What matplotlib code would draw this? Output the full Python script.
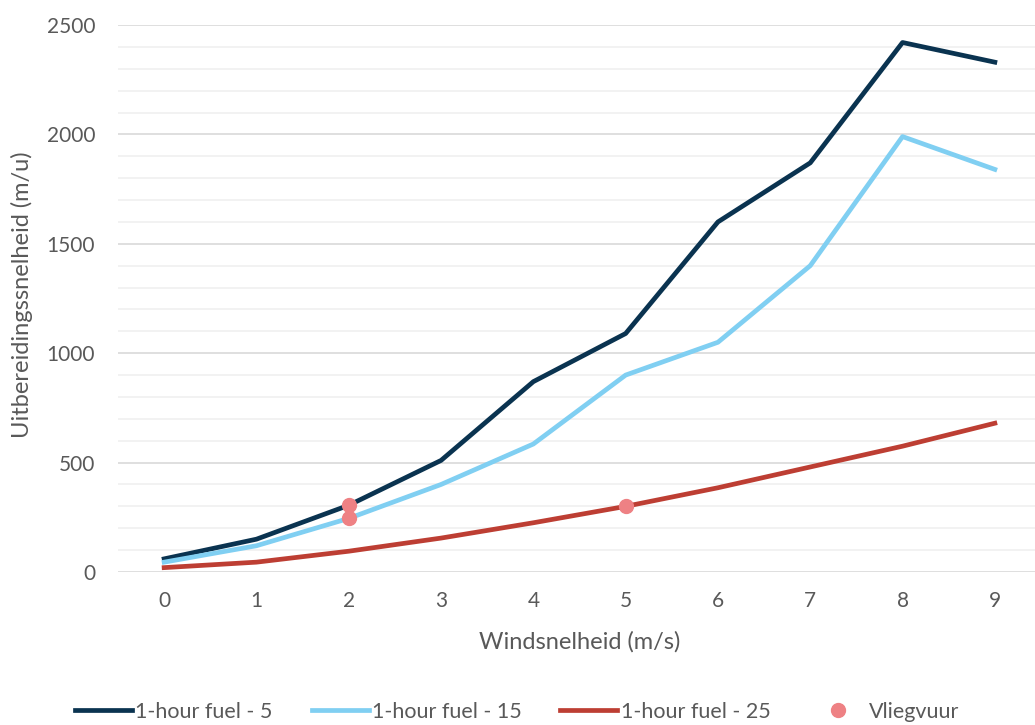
import matplotlib.pyplot as plt
from matplotlib.ticker import MultipleLocator

windsnelheid = [0, 1, 2, 3, 4, 5, 6, 7, 8, 9]
fuel_5 = [60, 150, 305, 510, 870, 1090, 1600, 1870, 2420, 2330]
fuel_15 = [45, 120, 245, 400, 585, 900, 1050, 1400, 1990, 1840]
fuel_25 = [20, 45, 95, 155, 225, 300, 385, 480, 575, 680]
vlieg_x = [2, 2, 5]
vlieg_y = [305, 245, 300]

plt.rcParams['font.family'] = ['Lato', 'DejaVu Sans']
grey = '#595959'

fig = plt.figure(figsize=(10.35, 7.25), dpi=100)
ax = fig.add_axes([118 / 1035, 1 - 572 / 725, (1035 - 118) / 1035, (572 - 25) / 725])

ax.plot(windsnelheid, fuel_5, color='#0A3350', lw=3.4, label='1-hour fuel - 5', zorder=3)
ax.plot(windsnelheid, fuel_15, color='#80CFF2', lw=3.4, label='1-hour fuel - 15', zorder=3)
ax.plot(windsnelheid, fuel_25, color='#BD3E33', lw=3.4, label='1-hour fuel - 25', zorder=3)
ax.plot(vlieg_x, vlieg_y, 'o', color='#EE8184', ms=10, label='Vliegvuur', zorder=4)

ax.set_xlim(-0.5, -0.5 + (1035 - 118) / 92.3)
ax.set_ylim(0, 2500)
ax.set_xticks(windsnelheid)
ax.yaxis.set_major_locator(MultipleLocator(500))
ax.yaxis.set_minor_locator(MultipleLocator(100))
ax.grid(which='major', axis='y', color='#D9D9D9', lw=1.2, zorder=0)
ax.grid(which='minor', axis='y', color='#F0F0F0', lw=1.2, zorder=0)
ax.tick_params(which='both', length=0, labelsize=15, labelcolor=grey)
ax.tick_params(axis='x', pad=14)
ax.tick_params(axis='y', pad=16.5)
for s in ax.spines.values():
    s.set_visible(False)

ax.set_xlabel('Windsnelheid (m/s)', fontsize=17, color=grey)
ax.set_ylabel('Uitbereidingssnelheid (m/u)', fontsize=17, color=grey)
ax.xaxis.set_label_coords((580 - 118) / (1035 - 118), -(642 - 572) / 547)
ax.yaxis.set_label_coords(-(118 - 22) / (1035 - 118), (572 - 295) / 547)
ax.xaxis.label.set_va('center')
ax.yaxis.label.set_va('center')

fig.legend(loc='center', bbox_to_anchor=(0.5, 1 - 712 / 725), ncol=4, frameon=False,
           fontsize=15.5, labelcolor=grey, handlelength=2.65, handletextpad=0.15,
           columnspacing=1.8)

fig.savefig('out.png', dpi=100)
